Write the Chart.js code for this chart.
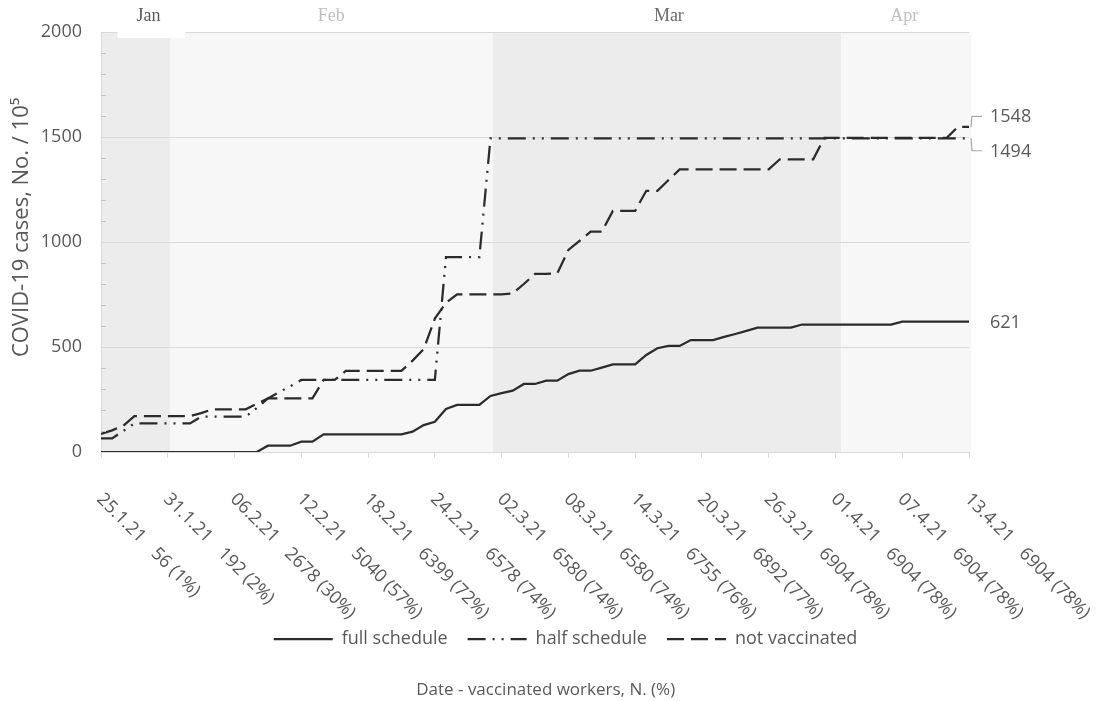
<!DOCTYPE html>
<html>
<head>
<meta charset="utf-8">
<script src="https://cdn.jsdelivr.net/npm/chart.js@4.4.1/dist/chart.umd.min.js"></script>
<style>
  html, body { margin: 0; padding: 0; background: #ffffff; }
  canvas { display: block; }
</style>
</head>
<body>
<canvas id="chart" width="1102" height="701"></canvas>
<script>
// ---------- DATA ----------
// x tick labels (every 6 days, starting 25.1.21)
const dateLabels = ['25.1.21','31.1.21','06.2.21','12.2.21','18.2.21','24.2.21','02.3.21',
                    '08.3.21','14.3.21','20.3.21','26.3.21','01.4.21','07.4.21','13.4.21'];
const workerLabels = ['56 (1%)','192 (2%)','2678 (30%)','5040 (57%)','6399 (72%)','6578 (74%)','6580 (74%)',
                      '6580 (74%)','6755 (76%)','6892 (77%)','6904 (78%)','6904 (78%)','6904 (78%)','6904 (78%)'];

// months shown as background bands (boundaries in days since 25.1.21)
const monthNames  = ['Jan', 'Feb', 'Mar', 'Apr'];
const monthBounds = [0, 6.2, 35.2, 66.5, 78.2];

// cumulative COVID-19 cases per 100 000, one value per day (day 0 = 25.1.21 ... day 78 = 13.4.21)
const fullSchedule = [
  0,0,0,0,0,0,0,0,0,0,0,0,0,0,0,
  30,30,30,49,49,
  84,84,84,84,84,84,84,84,
  97,128,144,205,224,224,224,
  267,280,292,324,324,340,340,
  371,387,387,402,417,417,417,
  462,494,505,505,533,533,533,
  548,562,577,592,592,592,592,
  607,607,607,607,607,607,607,607,607,
  621,621,621,621,621,621,621
];
const halfSchedule = [
  65,65,100,
  136,136,136,136,136,136,
  168,168,168,168,168,
  210,255,285,313,
  343,343,343,343,343,343,343,343,343,343,343,343,343,
  928,928,928,928,
  1494,1494,1494,1494,1494,1494,1494,1494,1494,1494,1494,
  1494,1494,1494,1494,1494,1494,1494,1494,1494,1494,1494,
  1494,1494,1494,1494,1494,1494,1494,1494,1494,1494,1494,
  1494,1494,1494,1494,1494,1494,1494,1494,1494,1494,1494
];
const notVaccinated = [
  86,103,125,
  171,171,171,171,171,171,
  185,
  203,203,203,203,
  230,
  255,255,255,255,255,
  343,343,
  386,386,386,386,386,386,
  435,490,635,710,
  751,751,751,751,751,
  755,800,848,848,850,
  962,1005,1049,1049,
  1148,1148,1148,
  1244,1244,1295,
  1346,1346,1346,1346,1346,1346,1346,1346,1346,
  1394,1394,1394,1394,
  1496,1496,1496,1496,1496,1496,1496,1496,1496,1496,1496,1496,
  1548,1548
];

const seriesNames = ['full schedule', 'half schedule', 'not vaccinated'];
const yTitle = 'COVID-19 cases, No. / 10\u2075';
const xTitle = 'Date - vaccinated workers, N. (%)';

// ---------- STYLE ----------
const FONT = "'Open Sans', sans-serif";
const FS = 18;
const TXT = '#595959';
const INK = '#2b2b2b';
const GRID = '#d9d9d9';

Chart.defaults.font.family = FONT;
Chart.defaults.font.size = FS;
Chart.defaults.color = TXT;

const toPoints = arr => arr.map((v, i) => ({ x: i, y: v }));

// background month bands + month labels
const monthBandsPlugin = {
  id: 'monthBands',
  beforeDraw(chart, args, o) {
    const { ctx, chartArea: a, scales: { x } } = chart;
    ctx.save();
    monthNames.forEach((m, i) => {
      const x0 = x.getPixelForValue(monthBounds[i]);
      const x1 = x.getPixelForValue(monthBounds[i + 1]);
      ctx.fillStyle = o.fills[i];
      ctx.fillRect(x0, a.top, x1 - x0, a.bottom - a.top);
    });
    ctx.restore();
  },
  afterDraw(chart, args, o) {
    const { ctx, chartArea: a, scales: { x } } = chart;
    ctx.save();
    ctx.font = o.font;
    ctx.textAlign = 'center';
    ctx.textBaseline = 'alphabetic';
    monthNames.forEach((m, i) => {
      const x0 = x.getPixelForValue(monthBounds[i]);
      const x1 = x.getPixelForValue(monthBounds[i + 1]);
      const cx = (x0 + x1) / 2 + o.shift[i];
      if (o.boxed[i]) {
        ctx.fillStyle = '#ffffff';
        ctx.fillRect(cx - 31, 0, 68, a.top + 6);
      }
      ctx.fillStyle = o.colors[i];
      ctx.fillText(m, cx, o.baseline);
    });
    ctx.restore();
  }
};

// minor y ticks, rotated x labels
const axisDecorPlugin = {
  id: 'axisDecor',
  afterDraw(chart, args, o) {
    const { ctx, chartArea: a, scales: { x, y } } = chart;
    ctx.save();
    ctx.strokeStyle = o.minorColor;
    ctx.lineWidth = 1;
    for (let v = o.minorStep; v < y.max; v += o.minorStep) {
      if (v % 500 === 0) continue;
      const py = Math.round(y.getPixelForValue(v)) + 0.5;
      ctx.beginPath();
      ctx.moveTo(a.left, py);
      ctx.lineTo(a.left + 5, py);
      ctx.stroke();
    }
    ctx.font = FS + 'px ' + FONT;
    ctx.fillStyle = TXT;
    ctx.textAlign = 'left';
    ctx.textBaseline = 'middle';
    x.ticks.forEach((t, i) => {
      if (dateLabels[i] === undefined) return;
      const px = x.getPixelForValue(t.value);
      ctx.save();
      ctx.translate(px + o.dx, a.bottom + o.dy);
      ctx.rotate(Math.PI / 4);
      ctx.fillText(dateLabels[i], 0, 0);
      const w = ctx.measureText(dateLabels[i]).width;
      ctx.fillText(workerLabels[i], w + o.gap, 0);
      ctx.restore();
    });
    ctx.restore();
  }
};

// value labels at the end of the lines
const endLabelsPlugin = {
  id: 'endLabels',
  afterDatasetsDraw(chart, args, o) {
    const { ctx } = chart;
    ctx.save();
    ctx.font = FS + 'px ' + FONT;
    ctx.textAlign = 'left';
    ctx.textBaseline = 'middle';
    chart.data.datasets.forEach((ds, di) => {
      const meta = chart.getDatasetMeta(di);
      const pt = meta.data[meta.data.length - 1];
      const val = ds.data[ds.data.length - 1].y;
      const dy = o.dy[di];
      if (o.leader[di]) {
        ctx.strokeStyle = o.leaderColor;
        ctx.lineWidth = 1.2;
        ctx.beginPath();
        ctx.moveTo(pt.x + 2, pt.y);
        ctx.lineTo(pt.x + 3, pt.y + dy);
        ctx.lineTo(pt.x + 13, pt.y + dy);
        ctx.stroke();
      }
      ctx.fillStyle = TXT;
      ctx.fillText(String(val), pt.x + 21, pt.y + dy + o.textShift[di]);
    });
    ctx.restore();
  }
};

const dashes = [[], [18, 7, 2, 7, 2, 7], [17, 7]];
const seriesData = [fullSchedule, halfSchedule, notVaccinated];

new Chart(document.getElementById('chart'), {
  type: 'line',
  data: {
    datasets: seriesData.map((d, i) => ({
      label: seriesNames[i],
      data: toPoints(d),
      borderColor: INK,
      backgroundColor: INK,
      borderWidth: 2.25,
      borderDash: dashes[i],
      borderCapStyle: 'butt',
      borderJoinStyle: 'miter',
      pointRadius: 0,
      pointHoverRadius: 0,
      tension: 0,
      fill: false,
      yAxisID: 'y'
    }))
  },
  options: {
    responsive: false,
    animation: false,
    events: [],
    layout: { padding: { top: 32, left: 29, right: 0, bottom: 0 } },
    scales: {
      x: {
        type: 'linear',
        min: 0,
        max: 78,
        afterFit: s => { s.height = 158; },
        ticks: { display: false, stepSize: 6 },
        grid: { drawOnChartArea: false, drawTicks: true, tickLength: 6, color: GRID, lineWidth: 1 },
        border: { color: GRID, width: 1 }
      },
      y: {
        type: 'linear',
        position: 'left',
        min: 0,
        max: 2000,
        afterFit: s => { s.width = 72; },
        ticks: { stepSize: 500, padding: 19, color: TXT, font: { size: FS }, callback: v => String(v) },
        grid: { color: GRID, drawTicks: false, lineWidth: 1 },
        border: { color: GRID, width: 1 },
        title: {
          display: true,
          text: '\u2003\u2004' + yTitle,
          color: TXT,
          font: { size: 22 },
          padding: { top: -20.2, bottom: 0 }
        }
      },
      y2: {
        type: 'linear',
        position: 'right',
        display: true,
        afterFit: s => { s.width = 133; },
        ticks: { display: false },
        grid: { display: false, drawTicks: false },
        border: { display: false }
      }
    },
    plugins: {
      legend: {
        display: true,
        position: 'bottom',
        labels: {
          usePointStyle: true,
          pointStyleWidth: 59,
          padding: 20,
          color: TXT,
          font: { size: FS },
          generateLabels: chart => chart.data.datasets.map((ds, i) => ({
            text: ds.label,
            fillStyle: 'rgba(0,0,0,0)',
            strokeStyle: ds.borderColor,
            lineWidth: ds.borderWidth,
            lineDash: ds.borderDash,
            lineCap: 'butt',
            pointStyle: 'line',
            fontColor: TXT,
            hidden: false,
            datasetIndex: i
          }))
        }
      },
      title: {
        display: true,
        position: 'bottom',
        text: xTitle + '\u2003\u2003\u2004',
        color: TXT,
        font: { size: 17, weight: 'normal' },
        padding: { top: 21.8, bottom: 0.8 }
      },
      tooltip: { enabled: false },
      monthBands: {
        fills: ['#ececec', '#f7f7f7', '#ececec', '#f7f7f7'],
        colors: ['#595959', '#bfbfbf', '#6b6b6b', '#bfbfbf'],
        shift: [13, 0, 2, -2],
        boxed: [true, false, false, false],
        font: "18px 'Liberation Serif', serif",
        baseline: 21
      },
      axisDecor: { minorStep: 100, minorColor: '#c4c4c4', dx: -1.5, dy: 44.5, gap: 16 },
      endLabels: {
        dy: [0, 12.5, -10.5],
        textShift: [1, 1.5, 0.5],
        leader: [false, true, true],
        leaderColor: '#a6a6a6'
      }
    }
  },
  plugins: [monthBandsPlugin, axisDecorPlugin, endLabelsPlugin]
});
</script>
</body>
</html>
